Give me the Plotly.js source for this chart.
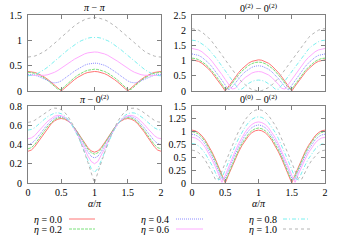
<!DOCTYPE html>
<html><head><meta charset="utf-8">
<script src="https://cdn.plot.ly/plotly-3.0.1.min.js"></script>
<style>html,body{margin:0;padding:0;background:#fff}#chart{width:337px;height:243px}</style>
</head><body><div id="chart"></div>
<script>
const alpha = [0,0.05,0.1,0.15,0.2,0.25,0.3,0.35,0.4,0.45,0.5,0.55,0.6,0.65,0.7,0.75,0.8,0.85,0.9,0.95,1,1.05,1.1,1.15,1.2,1.25,1.3,1.35,1.4,1.45,1.5,1.55,1.6,1.65,1.7,1.75,1.8,1.85,1.9,1.95,2];
const etaLabels = ["η = 0.0","η = 0.2","η = 0.4","η = 0.6","η = 0.8","η = 1.0"];
const panelTitles = ["<i>π</i> − <i>π</i>","0<sup>(2)</sup> − 0<sup>(2)</sup>","<i>π</i> − 0<sup>(2)</sup>","0<sup>(0)</sup> − 0<sup>(2)</sup>"];
const xTickVals = [0,0.5,1,1.5,2];
const xLabel = "<i>α</i>/<i>π</i>";

// top-left: pi - pi
const TL_eta00 = [.385,.380,.366,.343,.311,.272,.226,.175,.119,.060,0,.060,.119,.175,.226,.272,.311,.343,.366,.380,.385,.380,.366,.343,.311,.272,.226,.175,.119,.060,0,.060,.119,.175,.226,.272,.311,.343,.366,.380,.385];
const TL_eta02 = [.370,.365,.350,.326,.294,.253,.205,.152,.094,.032,.030,.093,.154,.212,.265,.313,.354,.386,.410,.425,.430,.425,.410,.386,.354,.313,.265,.212,.154,.093,.030,.032,.094,.152,.205,.253,.294,.326,.350,.365,.370];
const TL_eta04 = [.330,.326,.313,.293,.265,.234,.201,.174,.161,.170,.200,.243,.293,.344,.393,.437,.476,.508,.531,.545,.550,.545,.531,.508,.476,.437,.393,.344,.293,.243,.200,.170,.161,.174,.201,.234,.265,.293,.313,.326,.330];
const TL_eta06 = [.310,.309,.307,.305,.306,.311,.322,.342,.370,.406,.447,.492,.539,.585,.629,.669,.704,.732,.753,.766,.770,.766,.753,.732,.704,.669,.629,.585,.539,.492,.447,.406,.370,.342,.322,.311,.306,.305,.307,.309,.310];
const TL_eta08 = [.300,.306,.322,.350,.385,.428,.476,.529,.584,.642,.700,.757,.813,.865,.913,.956,.992,1.022,1.043,1.056,1.060,1.056,1.043,1.022,.992,.956,.913,.865,.813,.757,.700,.642,.584,.529,.476,.428,.385,.350,.322,.306,.300];
const TL_eta10 = [.670,.675,.689,.713,.745,.784,.831,.883,.939,.999,1.060,1.121,1.181,1.237,1.289,1.336,1.376,1.407,1.431,1.445,1.450,1.445,1.431,1.407,1.376,1.336,1.289,1.237,1.181,1.121,1.060,.999,.939,.883,.831,.784,.745,.713,.689,.675,.670];

// top-right: 0(2) - 0(2)
const TR_eta00 = [1.025,1.012,.975,.913,.829,.725,.602,.465,.317,.160,0,.160,.317,.465,.602,.725,.829,.913,.975,1.012,1.025,1.012,.975,.913,.829,.725,.602,.465,.317,.160,0,.160,.317,.465,.602,.725,.829,.913,.975,1.012,1.025];
const TR_eta02 = [1.080,1.068,1.030,.969,.886,.783,.662,.526,.379,.224,.065,.094,.249,.396,.532,.653,.756,.839,.900,.938,.950,.938,.900,.839,.756,.653,.532,.396,.249,.094,.065,.224,.379,.526,.662,.783,.886,.969,1.030,1.068,1.080];
const TR_eta04 = [1.220,1.207,1.170,1.108,1.024,.920,.797,.660,.512,.355,.195,.035,.122,.270,.407,.530,.634,.718,.780,.817,.830,.817,.780,.718,.634,.530,.407,.270,.122,.035,.195,.355,.512,.660,.797,.920,1.024,1.108,1.170,1.207,1.220];
const TR_eta06 = [1.400,1.387,1.350,1.289,1.205,1.101,.980,.843,.695,.540,.380,.220,.065,.083,.220,.341,.445,.529,.590,.627,.640,.627,.590,.529,.445,.341,.220,.083,.065,.220,.380,.540,.695,.843,.980,1.101,1.205,1.289,1.350,1.387,1.400];
const TR_eta08 = [1.670,1.658,1.620,1.559,1.476,1.373,1.252,1.116,.969,.814,.655,.496,.341,.194,.058,.063,.166,.249,.310,.348,.360,.348,.310,.249,.166,.063,.058,.194,.341,.496,.655,.814,.969,1.116,1.252,1.373,1.476,1.559,1.620,1.658,1.670];
const TR_eta10 = [2.050,2.037,2.000,1.938,1.854,1.750,1.627,1.490,1.342,1.185,1.025,.865,.708,.560,.423,.300,.196,.112,.050,.013,0,.013,.050,.112,.196,.300,.423,.560,.708,.865,1.025,1.185,1.342,1.490,1.627,1.750,1.854,1.938,2.000,2.037,2.050];

// bottom-left: pi - 0(2)
const BL_eta00 = [.330,.342,.376,.423,.476,.529,.576,.616,.646,.664,.670,.663,.644,.614,.573,.524,.471,.417,.368,.333,.320,.333,.368,.417,.471,.524,.573,.614,.644,.663,.670,.664,.646,.616,.576,.529,.476,.423,.376,.342,.330];
const BL_eta02 = [.355,.367,.399,.444,.495,.546,.592,.631,.659,.676,.680,.671,.650,.617,.574,.522,.465,.406,.353,.314,.300,.314,.353,.406,.465,.522,.574,.617,.650,.671,.680,.676,.659,.631,.592,.546,.495,.444,.399,.367,.355];
const BL_eta04 = [.400,.410,.439,.479,.526,.572,.615,.650,.675,.689,.690,.678,.654,.617,.569,.512,.449,.384,.323,.277,.260,.277,.323,.384,.449,.512,.569,.617,.654,.678,.690,.689,.675,.650,.615,.572,.526,.479,.439,.410,.400];
const BL_eta06 = [.460,.468,.492,.527,.567,.607,.644,.674,.694,.703,.700,.684,.655,.613,.560,.497,.427,.353,.281,.224,.200,.224,.281,.353,.427,.497,.560,.613,.655,.684,.700,.703,.694,.674,.644,.607,.567,.527,.492,.468,.460];
const BL_eta08 = [.550,.556,.574,.601,.632,.664,.692,.714,.727,.730,.720,.698,.663,.615,.555,.485,.406,.320,.232,.151,.110,.151,.232,.320,.406,.485,.555,.615,.663,.698,.720,.730,.727,.714,.692,.664,.632,.601,.574,.556,.550];
const BL_eta10 = [.630,.636,.651,.674,.701,.728,.752,.769,.778,.776,.762,.735,.694,.641,.576,.499,.412,.317,.215,.108,0,.108,.215,.317,.412,.499,.576,.641,.694,.735,.762,.776,.778,.769,.752,.728,.701,.674,.651,.636,.630];

// bottom-right: 0(0) - 0(2)
const BR_eta00 = [1.030,1.017,.980,.918,.833,.728,.605,.468,.318,.161,0,.161,.318,.468,.605,.728,.833,.918,.980,1.017,1.030,1.017,.980,.918,.833,.728,.605,.468,.318,.161,0,.161,.318,.468,.605,.728,.833,.918,.980,1.017,1.030];
const BR_eta02 = [1.000,.987,.949,.887,.802,.697,.573,.435,.285,.127,.035,.197,.355,.505,.643,.767,.872,.957,1.019,1.057,1.070,1.057,1.019,.957,.872,.767,.643,.505,.355,.197,.035,.127,.285,.435,.573,.697,.802,.887,.949,.987,1.000];
const BR_eta04 = [.950,.937,.899,.837,.751,.645,.521,.382,.231,.073,.090,.253,.411,.562,.701,.825,.931,1.017,1.079,1.117,1.130,1.117,1.079,1.017,.931,.825,.701,.562,.411,.253,.090,.073,.231,.382,.521,.645,.751,.837,.899,.937,.950];
const BR_eta06 = [.890,.877,.839,.777,.691,.585,.461,.322,.171,.013,.150,.313,.471,.622,.761,.885,.991,1.077,1.139,1.177,1.190,1.177,1.139,1.077,.991,.885,.761,.622,.471,.313,.150,.013,.171,.322,.461,.585,.691,.777,.839,.877,.890];
const BR_eta08 = [.770,.757,.720,.658,.573,.468,.345,.208,.058,.099,.260,.421,.578,.728,.865,.988,1.093,1.178,1.240,1.277,1.290,1.277,1.240,1.178,1.093,.988,.865,.728,.578,.421,.260,.099,.058,.208,.345,.468,.573,.658,.720,.757,.770];
const BR_eta10 = [.640,.627,.589,.527,.442,.337,.213,.075,.075,.233,.395,.557,.715,.865,1.003,1.127,1.232,1.317,1.379,1.417,1.430,1.417,1.379,1.317,1.232,1.127,1.003,.865,.715,.557,.395,.233,.075,.075,.213,.337,.442,.527,.589,.627,.640];

const panels = [
  {xa:'x', ya:'y', series:[TL_eta00,TL_eta02,TL_eta04,TL_eta06,TL_eta08,TL_eta10]},
  {xa:'x2', ya:'y2', series:[TR_eta00,TR_eta02,TR_eta04,TR_eta06,TR_eta08,TR_eta10]},
  {xa:'x3', ya:'y3', series:[BL_eta00,BL_eta02,BL_eta04,BL_eta06,BL_eta08,BL_eta10]},
  {xa:'x4', ya:'y4', series:[BR_eta00,BR_eta02,BR_eta04,BR_eta06,BR_eta08,BR_eta10]}
];

const styles = [
  {color:'#ff7474', dash:'solid'},
  {color:'#7ae07a', dash:'3px,1px'},
  {color:'#8c8cff', dash:'1px,1px'},
  {color:'#ffaaff', dash:'solid'},
  {color:'#7af0f0', dash:'4px,2px,1px,2px'},
  {color:'#b4b4b4', dash:'3px,3px'}
];

const traces = [];
panels.forEach(p => {
  p.series.forEach((ys, i) => {
    traces.push({x: alpha, y: ys, xaxis: p.xa, yaxis: p.ya, type: 'scatter', mode: 'lines',
      name: etaLabels[i], showlegend: false,
      line: {color: styles[i].color, width: 1, dash: styles[i].dash}});
  });
});

const W = 337, H = 243;
const fx = px => px / W;
const fy = py => (H - py) / H;
const font = {family: 'Liberation Serif, DejaVu Serif, serif', size: 10, color: '#000'};
const axisBase = {showline: true, mirror: 'ticks', linecolor: '#808080', linewidth: 1,
  ticks: 'inside', ticklen: 4, tickcolor: '#808080', showgrid: false, zeroline: false,
  tickfont: font, fixedrange: true};

function xax(domain, anchor, showLabels) {
  const a = Object.assign({}, axisBase, {domain: domain, anchor: anchor, range: [0, 2],
    tickmode: 'array', tickvals: xTickVals, showticklabels: showLabels});
  if (showLabels) a.title = {text: xLabel, font: font, standoff: 1};
  return a;
}
function yax(domain, anchor, range, dtick) {
  return Object.assign({}, axisBase, {domain: domain, anchor: anchor, range: range,
    tick0: 0, dtick: dtick, ticklabelstandoff: 3});
}

const xL = [fx(28), fx(161)], xR = [fx(192), fx(325)];
const yT = [fy(91), fy(15)], yB = [fy(183), fy(106)];

const titleY = [8, 8, 99, 99];
const titleX = [(xL[0]+xL[1])/2, (xR[0]+xR[1])/2, (xL[0]+xL[1])/2, (xR[0]+xR[1])/2];
const annotations = panelTitles.map((t, i) => ({text: t, x: titleX[i], y: fy(titleY[i]),
  xref:'paper', yref:'paper', xanchor:'center', yanchor:'middle', showarrow:false, font: font}));
const shapes = [];
const legCols = [{tx: 64, l0: 69, l1: 95}, {tx: 171, l0: 176, l1: 203}, {tx: 279, l0: 283, l1: 310}];
const legRows = [219, 229];
etaLabels.forEach((lab, i) => {
  const c = legCols[Math.floor(i / 2)], r = legRows[i % 2];
  annotations.push({text: lab.replace('η', '<i>η</i>'), x: fx(c.tx), y: fy(r), xref:'paper', yref:'paper',
    xanchor:'right', yanchor:'middle', showarrow:false, font: font});
  shapes.push({type:'line', xref:'paper', yref:'paper', x0: fx(c.l0), x1: fx(c.l1), y0: fy(r), y1: fy(r),
    line: {color: styles[i].color, width: 1, dash: styles[i].dash}});
});

const layout = {
  width: W, height: H, autosize: false,
  margin: {l: 0, r: 0, t: 0, b: 0},
  paper_bgcolor: '#fff', plot_bgcolor: '#fff',
  font: font, showlegend: false,
  xaxis: xax(xL, 'y', false),
  yaxis: yax(yT, 'x', [0, 1.5], 0.5),
  xaxis2: xax(xR, 'y2', false),
  yaxis2: yax(yT, 'x2', [0, 2.5], 0.5),
  xaxis3: xax(xL, 'y3', true),
  yaxis3: yax(yB, 'x3', [0, 0.8], 0.2),
  xaxis4: xax(xR, 'y4', true),
  yaxis4: yax(yB, 'x4', [0, 1.5], 0.25),
  annotations: annotations,
  shapes: shapes
};

Plotly.newPlot('chart', traces, layout, {staticPlot: true, displayModeBar: false});
</script>
</body></html>
